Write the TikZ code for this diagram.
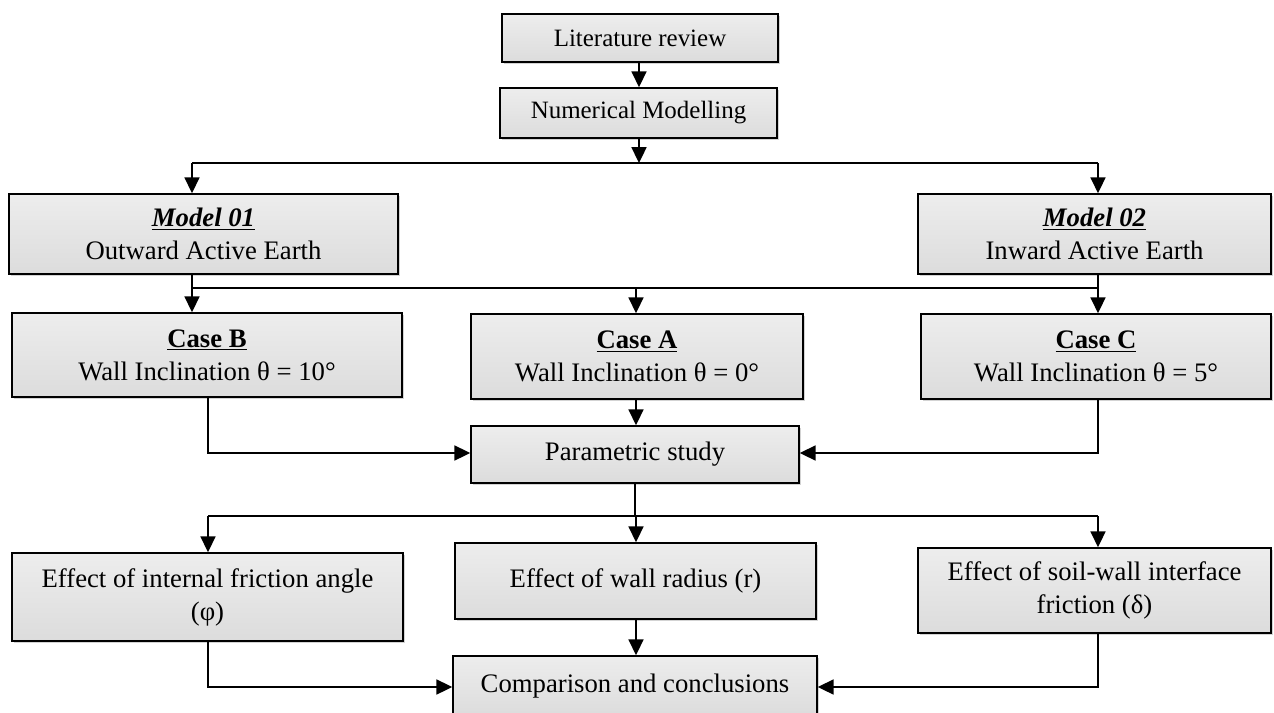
\documentclass[tikz,border=0pt]{standalone}
\usepackage{fontspec}
\setmainfont{Liberation Serif}
\usepackage{xcolor}
\usepackage{tikz}
\usetikzlibrary{arrows.meta,shadows}
\definecolor{boxtop}{HTML}{EDEDED}
\definecolor{boxmid}{HTML}{C4C4C4}
\definecolor{boxbot}{HTML}{DCDCDC}
\tikzset{
  FlowBox/.style={
    draw=black, line width=0.9pt,
    top color=boxtop, middle color=boxmid, bottom color=boxbot,
    drop shadow={shadow xshift=1.1pt, shadow yshift=-1.1pt, opacity=0.35},
    align=center, inner sep=0pt,
    font=\fontsize{15.2}{18.8}\selectfont
  },
  SmallBox/.style={FlowBox, font=\fontsize{14.2}{17}\selectfont},
  FlowLine/.style={line width=1.1pt},
  FlowArrow/.style={FlowLine, -{Triangle[length=9pt,width=8.5pt]}}
}
\newcommand{\CaseHead}[1]{\underline{\textbf{#1}}}
\newcommand{\ModelHead}[1]{\underline{\textbf{\textit{#1}}}}

\begin{document}
\begin{tikzpicture}[x=0.02cm, y=-0.02cm, line cap=butt, line join=miter]
  \useasboundingbox (0,0) rectangle (1274,713);
  \clip (0,0) rectangle (1274,713);

  \node[SmallBox, minimum width=5.52cm, minimum height=0.96cm] (lit) at (640,38) {Literature review};
  \node[SmallBox, minimum width=5.54cm, minimum height=1.0cm] (num) at (638.5,113) {Numerical Modelling};

  \node[FlowBox, minimum width=7.78cm, minimum height=1.6cm] (mOne) at (203.5,234) {\ModelHead{Model 01}\\Outward Active Earth};
  \node[FlowBox, minimum width=7.06cm, minimum height=1.6cm] (mTwo) at (1094.5,234) {\ModelHead{Model 02}\\Inward Active Earth};

  \node[FlowBox, minimum width=7.8cm, minimum height=1.68cm] (caseB) at (207,355) {\CaseHead{Case B}\\Wall Inclination θ = 10°};
  \node[FlowBox, minimum width=6.64cm, minimum height=1.7cm] (caseA) at (637,356.5) {\CaseHead{Case A}\\Wall Inclination θ = 0°};
  \node[FlowBox, minimum width=7.0cm, minimum height=1.7cm] (caseC) at (1096,356.5) {\CaseHead{Case C}\\Wall Inclination θ = 5°};

  \node[FlowBox, minimum width=6.56cm, minimum height=1.14cm] (param) at (635,454.5) {Parametric study};

  \node[FlowBox, minimum width=7.82cm, minimum height=1.76cm] (effPhi) at (207.5,597) {Effect of internal friction angle\\(φ)};
  \node[FlowBox, minimum width=7.22cm, minimum height=1.52cm] (effR) at (635.5,581) {Effect of wall radius (r)};
  \node[FlowBox, minimum width=7.06cm, minimum height=1.7cm] (effD) at (1094.5,590.5) {Effect of soil-wall interface\\friction (δ)};

  \node[FlowBox, minimum width=7.28cm, minimum height=1.2cm] (comp) at (635,686) {Comparison and conclusions};

  % split points
  \coordinate (topMid) at (639,163);
  \coordinate (topL) at (192,163);
  \coordinate (topR) at (1098,163);
  \coordinate (midL) at (192,288);
  \coordinate (midA) at (636,288);
  \coordinate (midR) at (1098,288);
  \coordinate (parL) at (208,453);
  \coordinate (parR) at (1098,453);
  \coordinate (lowMid) at (635,516);
  \coordinate (lowL) at (208,516);
  \coordinate (lowA) at (636,516);
  \coordinate (lowR) at (1098,516);
  \coordinate (endL) at (208,687);
  \coordinate (endR) at (1098,687);

  \draw[FlowArrow] (lit.south -| topMid) -- (num.north -| topMid);
  \draw[FlowArrow] (num.south -| topMid) -- (topMid);
  \draw[FlowLine] (topL) -- (topR);
  \draw[FlowArrow] (topL) -- (topL |- mOne.north);
  \draw[FlowArrow] (topR) -- (topR |- mTwo.north);

  \draw[FlowLine] (mOne.south -| midL) -- (midL) -- (midR);
  \draw[FlowLine] (mTwo.south -| midR) -- (midR);
  \draw[FlowArrow] (midL) -- (midL |- caseB.north);
  \draw[FlowArrow] (midA) -- (midA |- caseA.north);
  \draw[FlowArrow] (midR) -- (midR |- caseC.north);

  \draw[FlowArrow] (caseB.south -| parL) -- (parL) -- (param.west |- parL);
  \draw[FlowArrow] (caseA.south -| midA) -- (param.north -| midA);
  \draw[FlowArrow] (caseC.south -| parR) -- (parR) -- (param.east |- parR);

  \draw[FlowLine] (param.south -| lowMid) -- (lowMid);
  \draw[FlowLine] (lowL) -- (lowR);
  \draw[FlowArrow] (lowL) -- (lowL |- effPhi.north);
  \draw[FlowArrow] (lowA) -- (lowA |- effR.north);
  \draw[FlowArrow] (lowR) -- (lowR |- effD.north);

  \draw[FlowArrow] (effPhi.south -| endL) -- (endL) -- (comp.west |- endL);
  \draw[FlowArrow] (effR.south -| lowA) -- (comp.north -| lowA);
  \draw[FlowArrow] (effD.south -| endR) -- (endR) -- (comp.east |- endR);
\end{tikzpicture}
\end{document}
